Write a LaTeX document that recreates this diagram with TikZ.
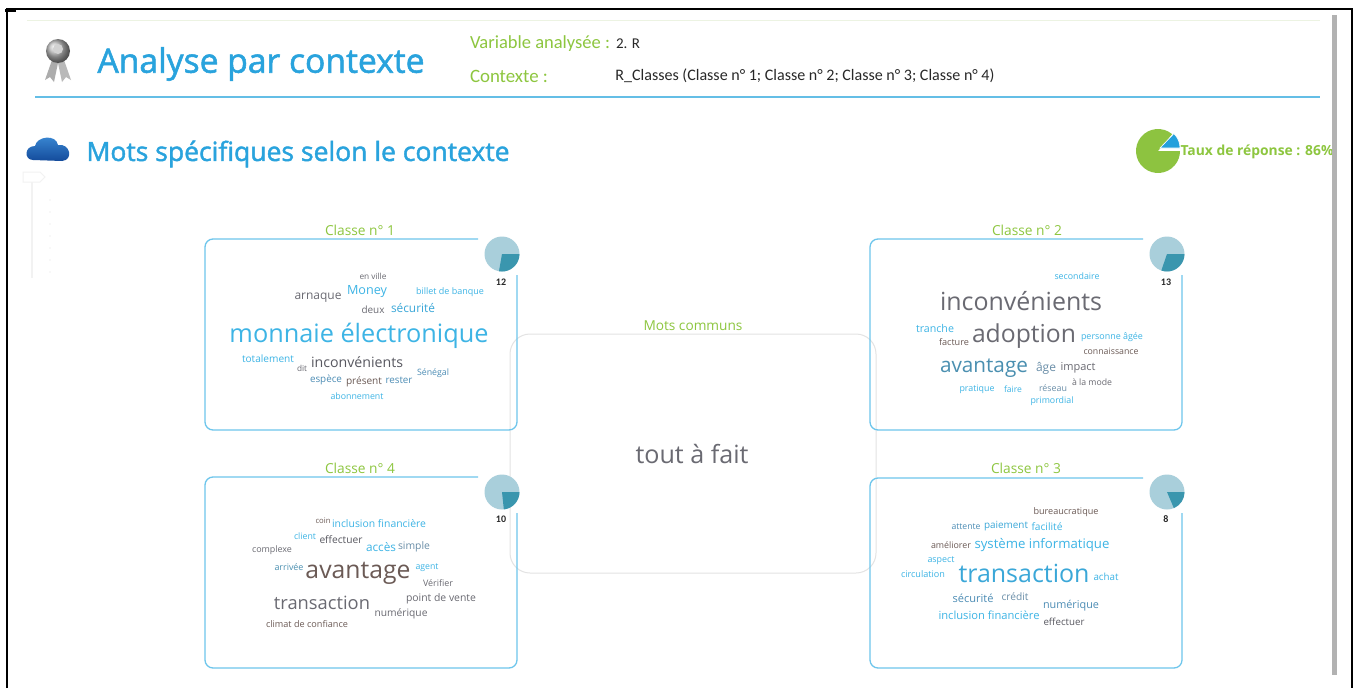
\documentclass[tikz,border=0pt]{standalone}
\usepackage{fontspec}
\setmainfont{Open Sans}
\newfontfamily\calib{Carlito}
\newfontfamily\semib[FakeBold=1.6]{Open Sans}
\usepackage{graphicx}
\definecolor{titleblue}{RGB}{41,163,221}
\definecolor{lblgreen}{RGB}{141,198,63}
\definecolor{boxblue}{RGB}{110,198,236}
\definecolor{cblue}{RGB}{61,180,229}
\definecolor{cblue2}{RGB}{58,167,216}
\definecolor{cgray}{RGB}{106,106,114}
\definecolor{cdark}{RGB}{88,88,96}
\definecolor{cbrown}{RGB}{107,90,85}
\definecolor{cbgray}{RGB}{77,141,181}
\definecolor{cteal}{RGB}{74,143,176}
\definecolor{cslate}{RGB}{106,142,168}
\definecolor{pielight}{RGB}{169,207,219}
\definecolor{piedark}{RGB}{58,150,174}
\definecolor{piegreen}{RGB}{141,195,64}
\definecolor{pieblue}{RGB}{35,160,220}
\definecolor{txtdark}{RGB}{40,40,40}
\newcommand\cloudword[6]{\node[wordnode,text=#5] (#1) at (#2,#3) {\resizebox{#4pt}{!}{#6}};}
\begin{document}
\begin{tikzpicture}[x=1pt,y=-1pt,
  wordnode/.style={inner sep=0pt,outer sep=0pt},
  classbox/.style={draw=boxblue,line width=1.3pt,rounded corners=8pt},
  piecount/.style={inner sep=0pt,text=txtdark,font=\calib\bfseries\fontsize{10}{10}\selectfont}]
\useasboundingbox (0,0) rectangle (1357,688);
\fill[white] (0,0) rectangle (1357,688);
% frame
\draw[line width=1.6pt,black] (7,688) -- (7,9) -- (1352,9) -- (1352,688);
\draw[line width=3pt,black] (5,10) -- (16,10);
% header lines
\draw[line width=1pt,color={rgb,255:red,236;green,243;blue,226}] (27,20) -- (1320,20);
\draw[line width=1.2pt,color={rgb,255:red,100;green,190;blue,230}] (35,97) -- (1320,97);
% medal icon
\fill[gray!65] (52,60) -- (45,80) -- (50,77) -- (54,82) -- (58,63) -- cycle;
\fill[gray!55] (64,60) -- (71,80) -- (66,77) -- (62,82) -- (58,63) -- cycle;
\shade[ball color=gray!55] (58,51) circle (12);
\fill[gray!35] (58,49) circle (5);
% title
\cloudword{title}{261}{64}{327}{titleblue}{\semib Analyse par contexte}
\cloudword{varlbl}{540}{44}{140}{lblgreen}{\calib Variable analysée :}
\cloudword{varval}{628}{44}{24}{txtdark}{\calib 2. R}
\cloudword{ctxlbl}{509}{76}{78}{lblgreen}{\calib Contexte :}
\cloudword{ctxval}{805}{76}{379}{txtdark}{\calib R\_Classes (Classe n° 1; Classe n° 2; Classe n° 3; Classe n° 4)}
% cloud icon
\shade[top color={rgb,255:red,60;green,140;blue,215},bottom color={rgb,255:red,20;green,75;blue,155}]
  (33,160) .. controls (24,160) and (24,146) .. (35,146)
  .. controls (37,136) and (56,134) .. (58,145)
  .. controls (70,143) and (74,160) .. (62,161) -- cycle;
\cloudword{subtitle}{298}{154}{423}{titleblue}{\semib Mots spécifiques selon le contexte}
% faint slider
\draw[gray!10,line width=1pt] (23,172) -- (40,172) -- (45,177) -- (40,182) -- (23,182) -- cycle;
\draw[gray!10,line width=1.5pt] (32,182) -- (32,278);
\foreach \yy in {200,212,...,272} {\fill[gray!10] (50,\yy) circle (0.8);}
% response pie
\fill[piegreen] (1158,151) -- ++(-50:22) arc[start angle=-50,end angle=-360,radius=22] -- cycle;
\fill[pieblue,draw=white,line width=0.6pt] (1160,148) -- ++(0:20) arc[start angle=0,end angle=-46,radius=20] -- cycle;
\cloudword{taux}{1257}{152}{153}{lblgreen}{\bfseries Taux de réponse : 86\%}
% gray scrollbar
\fill[gray!60] (1332,15) rectangle (1337,675);
% center box
\draw[gray!22,line width=1pt,rounded corners=20pt] (510,334) rectangle (876,573);
\cloudword{communs}{693}{326}{99}{lblgreen}{Mots communs}
\cloudword{toutafait}{692}{454}{113}{cgray}{tout à fait}
% class boxes
\draw[classbox] (478,239) -- (205,239) -- (205,430) -- (517,430) -- (517,275);
\draw[classbox] (1143,239) -- (870,239) -- (870,430) -- (1182,430) -- (1182,275);
\draw[classbox] (478,477) -- (205,477) -- (205,668) -- (517,668) -- (517,513);
\draw[classbox] (1143,478) -- (870,478) -- (870,668) -- (1182,668) -- (1182,513);
\cloudword{cl1}{360}{230}{70}{lblgreen}{Classe n° 1}
\cloudword{cl2}{1027}{230}{70}{lblgreen}{Classe n° 2}
\cloudword{cl4}{360}{468}{70}{lblgreen}{Classe n° 4}
\cloudword{cl3}{1026}{468}{70}{lblgreen}{Classe n° 3}
% class pies
\fill[pielight] (502,254) circle (17.5);
\fill[piedark] (502,254) -- ++(0:17.5) arc[start angle=0,end angle=100,radius=17.5] -- cycle;
\fill[pielight] (1167,254) circle (17.5);
\fill[piedark] (1167,254) -- ++(0:17.5) arc[start angle=0,end angle=109,radius=17.5] -- cycle;
\fill[pielight] (502,492) circle (17.5);
\fill[piedark] (502,492) -- ++(0:17.5) arc[start angle=0,end angle=84,radius=17.5] -- cycle;
\fill[pielight] (1167,492) circle (17.5);
\fill[piedark] (1167,492) -- ++(0:17.5) arc[start angle=0,end angle=67,radius=17.5] -- cycle;
\node[piecount] (n1) at (501,282) {12};
\node[piecount] (n2) at (1166,282) {13};
\node[piecount] (n4) at (501,519) {10};
\node[piecount] (n3) at (1166,519) {8};
% ---- Classe 1 words
\cloudword{a1}{373}{276}{27}{cgray}{en ville}
\cloudword{a2}{367}{292}{40}{cblue}{Money}
\cloudword{a3}{450}{292}{68}{cblue}{billet de banque}
\cloudword{a4}{318}{298}{47}{cgray}{arnaque}
\cloudword{a5}{373}{310}{23}{cgray}{deux}
\cloudword{a6}{413}{308}{44}{cblue2}{sécurité}
\cloudword{a7}{359}{336}{259}{cblue}{monnaie électronique}
\cloudword{a8}{268}{359}{52}{cblue}{totalement}
\cloudword{a9}{357}{362}{92}{cdark}{inconvénients}
\cloudword{a10}{302}{368}{10}{cgray}{dit}
\cloudword{a11}{433}{373}{32}{cbgray}{Sénégal}
\cloudword{a12}{326}{380}{32}{cbgray}{espèce}
\cloudword{a13}{364}{382}{36}{cbrown}{présent}
\cloudword{a14}{399}{380}{27}{cbgray}{rester}
\cloudword{a15}{357}{396}{53}{cblue}{abonnement}
% ---- Classe 2 words
\cloudword{b1}{1077}{276}{45}{cblue}{secondaire}
\cloudword{b2}{1021}{301}{162}{cgray}{inconvénients}
\cloudword{b3}{935}{328}{38}{cblue}{tranche}
\cloudword{b4}{1024}{336}{104}{cgray}{adoption}
\cloudword{b5}{954}{342}{30}{cbrown}{facture}
\cloudword{b6}{1112}{337}{62}{cblue}{personne âgée}
\cloudword{b7}{1111}{351}{55}{cbrown}{connaissance}
\cloudword{b8}{984}{368}{88}{cteal}{avantage}
\cloudword{b9}{1046}{368}{20}{cslate}{âge}
\cloudword{b10}{1078}{368}{35}{cgray}{impact}
\cloudword{b11}{1092}{382}{40}{cgray}{à la mode}
\cloudword{b12}{1053}{388}{28}{cslate}{réseau}
\cloudword{b13}{977}{389}{35}{cblue}{pratique}
\cloudword{b14}{1013}{389}{18}{cblue}{faire}
\cloudword{b15}{1052}{401}{43}{cblue}{primordial}
% ---- Classe 4 words
\cloudword{d1}{323}{521}{15}{cbrown}{coin}
\cloudword{d2}{379}{524}{94}{cblue}{inclusion financière}
\cloudword{d3}{305}{536}{22}{cblue}{client}
\cloudword{d4}{341}{540}{43}{cdark}{effectuer}
\cloudword{d5}{381}{547}{30}{cblue}{accès}
\cloudword{d6}{414}{547}{32}{cslate}{simple}
\cloudword{d7}{272}{550}{40}{cgray}{complexe}
\cloudword{d8}{289}{567}{29}{cteal}{arrivée}
\cloudword{d9}{358}{573}{105}{cbrown}{avantage}
\cloudword{d10}{427}{568}{23}{cblue}{agent}
\cloudword{d11}{438}{583}{30}{cgray}{Vérifier}
\cloudword{d12}{322}{603}{96}{cgray}{transaction}
\cloudword{d13}{441}{599}{70}{cgray}{point de vente}
\cloudword{d14}{401}{614}{53}{cgray}{numérique}
\cloudword{d15}{307}{624}{82}{cbrown}{climat de confiance}
% ---- Classe 3 words
\cloudword{e1}{1066}{512}{65}{cbrown}{bureaucratique}
\cloudword{e2}{966}{527}{29}{cbgray}{attente}
\cloudword{e3}{1006}{526}{44}{cblue2}{paiement}
\cloudword{e4}{1047}{527}{31}{cblue}{facilité}
\cloudword{e5}{951}{545}{40}{cbrown}{améliorer}
\cloudword{e6}{1042}{545}{135}{cblue}{système informatique}
\cloudword{e7}{941}{561}{27}{cblue}{aspect}
\cloudword{e8}{923}{574}{44}{cblue}{circulation}
\cloudword{e9}{1024}{573}{131}{cblue2}{transaction}
\cloudword{e10}{1106}{577}{25}{cblue}{achat}
\cloudword{e11}{973}{598}{41}{cbgray}{sécurité}
\cloudword{e12}{1015}{597}{27}{cslate}{crédit}
\cloudword{e13}{1071}{606}{56}{cbgray}{numérique}
\cloudword{e14}{989}{615}{101}{cblue}{inclusion financière}
\cloudword{e15}{1064}{622}{41}{cdark}{effectuer}
\end{tikzpicture}
\end{document}
